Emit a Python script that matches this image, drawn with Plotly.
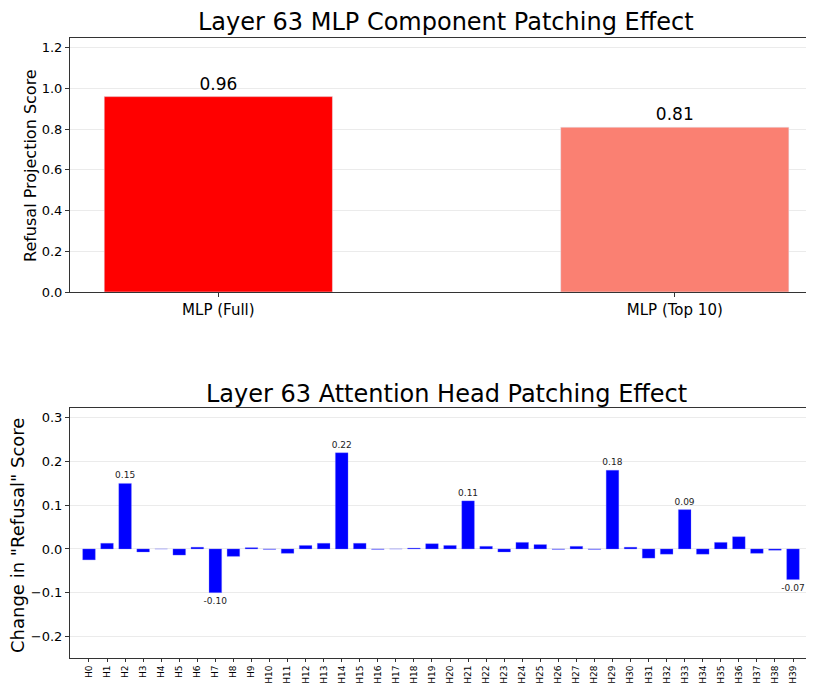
import plotly.graph_objects as go

mlp_labels = ["MLP (Full)", "MLP (Top 10)"]
mlp_values = [0.96, 0.81]
mlp_colors = ["#FF0000", "#FA8072"]

head_labels = [f"H{i}" for i in range(40)]
head_values = [-0.025, 0.013, 0.15, -0.007, 0.0, -0.014, 0.004, -0.10, -0.017, 0.003,
               -0.001, -0.010, 0.008, 0.013, 0.22, 0.013, -0.001, 0.0, 0.002, 0.012,
               0.008, 0.11, 0.006, -0.007, 0.015, 0.010, -0.001, 0.006, -0.001, 0.18,
               0.004, -0.021, -0.012, 0.09, -0.012, 0.015, 0.028, -0.010, -0.003, -0.07]
head_text = [f"{v:.2f}" if abs(v) > 0.05 else "" for v in head_values]

OFF = 8  # page body margin
SW, SH = 814, 693
W, H = SW - 2 * OFF, SH - 2 * OFF
PLOT_L, PLOT_T, PLOT_B = 70, 38, 658  # screen coordinates of plot area
L, R, T = PLOT_L - OFF, 0, PLOT_T - OFF
B = H - (PLOT_B - OFF)
ph = H - T - B
pw = W - L - R

def py(y):
    return (PLOT_B - y) / ph

def px(x):
    return (x - PLOT_L) / pw

font = "DejaVu Sans, Liberation Sans, sans-serif"
fig = go.Figure()
fig.add_trace(go.Bar(x=[0, 1], y=mlp_values, marker_color=mlp_colors, width=0.5,
                     text=[f"{v:.2f}" for v in mlp_values], textposition="outside",
                     textfont=dict(size=17, color="black"), constraintext="none",
                     cliponaxis=False, xaxis="x", yaxis="y", showlegend=False))
fig.add_trace(go.Bar(x=list(range(40)), y=head_values, marker_color="#0000FF",
                     marker_line=dict(color="rgba(120,120,255,0.6)", width=0.5), width=0.7,
                     text=head_text, textposition="outside",
                     textfont=dict(size=9, color="#222"), constraintext="none",
                     cliponaxis=False, xaxis="x2", yaxis="y2", showlegend=False))

axcommon = dict(showline=True, linecolor="#333", linewidth=1, automargin=False,
                ticks="outside", tickcolor="#333", zeroline=False)
ann = dict(xref="paper", yref="paper", showarrow=False, xanchor="center", yanchor="middle")
fig.update_layout(
    width=W, height=H, margin=dict(l=L, r=R, t=T, b=B, autoexpand=False),
    paper_bgcolor="white", plot_bgcolor="white",
    font=dict(family=font, color="black"),
    xaxis=dict(domain=[0, 1], anchor="y", range=[-0.325, 1.2875], tickvals=[0, 1], mirror=True,
               ticklen=4, ticktext=mlp_labels, tickfont=dict(size=15), showgrid=False,
               **axcommon),
    yaxis=dict(domain=[py(292), 1], anchor="x", range=[0, 1.248], dtick=0.2, tickformat=".1f",
               ticklen=4, tickfont=dict(size=13), showgrid=True, gridcolor="#ebebeb",
               **axcommon),
    xaxis2=dict(domain=[0, 1], anchor="y2", range=[-1.052, 39.72], tickvals=list(range(40)),
                mirror=True, ticklen=3, ticktext=head_labels, tickangle=-90,
                tickfont=dict(size=9), showgrid=False, **axcommon),
    yaxis2=dict(domain=[0, py(408)], anchor="x2", range=[-0.2495, 0.3225], dtick=0.1,
                ticklen=4, tickformat=".1f", tickfont=dict(size=13), showgrid=True,
                gridcolor="#ebebeb", **axcommon),
    annotations=[
        dict(text="Layer 63 MLP Component Patching Effect", x=px(446), y=py(22),
             font=dict(size=24), **ann),
        dict(text="Layer 63 Attention Head Patching Effect", x=px(446), y=py(394),
             font=dict(size=24), **ann),
        dict(text="Refusal Projection Score", x=px(30), y=py(166), textangle=-90,
             font=dict(size=16), **ann),
        dict(text="Change in \"Refusal\" Score", x=px(17), y=py(536), textangle=-90,
             font=dict(size=18), **ann),
    ],
)
fig.write_html("out.html")
